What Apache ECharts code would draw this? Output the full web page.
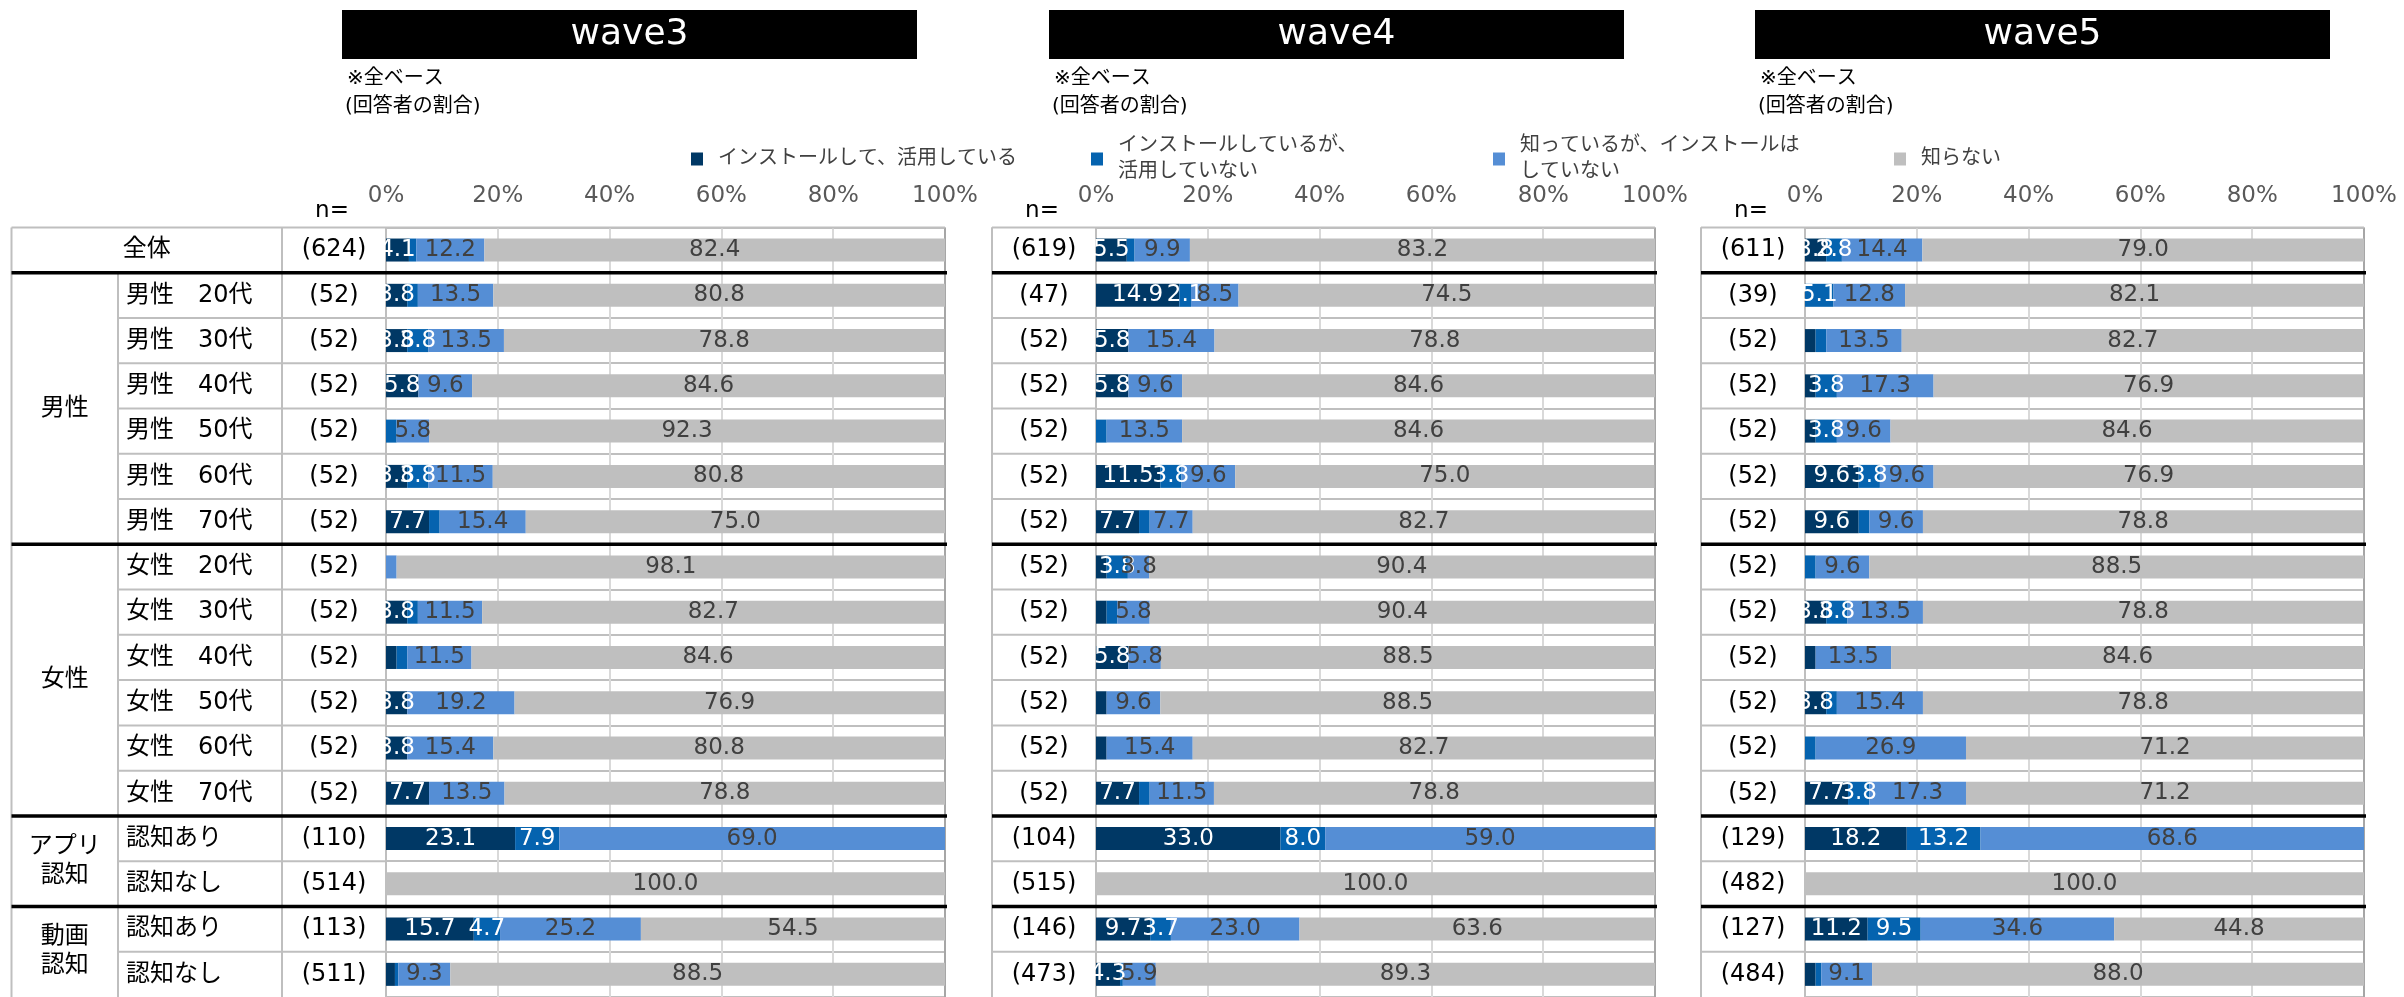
<!DOCTYPE html>
<html>
<head>
<meta charset="UTF-8">
<title></title>
<script src="https://cdn.jsdelivr.net/npm/echarts@6/dist/echarts.min.js"></script>
<style>html,body{margin:0;padding:0;background:#fff;}</style>
</head>
<body>
<div id="main" style="width:2404px;height:997px;"></div>
<script type="text/javascript">
// データ
var waves = ['wave3', 'wave4', 'wave5'];
var seriesNames = ['インストールして、活用している', 'インストールしているが、活用していない', '知っているが、インストールはしていない', '知らない'];
var legendText = ['インストールして、活用している', 'インストールしているが、\n活用していない', '知っているが、インストールは\nしていない', '知らない'];
var rowLabels = ['全体', '男性　20代', '男性　30代', '男性　40代', '男性　50代', '男性　60代', '男性　70代',
	'女性　20代', '女性　30代', '女性　40代', '女性　50代', '女性　60代', '女性　70代',
	'認知あり', '認知なし', '認知あり', '認知なし'];
var groupLabels = ['男性', '女性', 'アプリ\n認知', '動画\n認知'];
var groupRows = [[1, 7], [7, 13], [13, 15], [15, 17]];

var w3N = [624, 52, 52, 52, 52, 52, 52, 52, 52, 52, 52, 52, 52, 110, 514, 113, 511];
var w3Use = [4.1, 3.8, 3.8, 5.8, 0, 3.8, 7.7, 0, 3.8, 1.9, 3.8, 3.8, 7.7, 23.1, 0, 15.7, 1.6];
var w3Idle = [1.3, 1.9, 3.8, 0, 1.9, 3.8, 1.9, 0, 1.9, 1.9, 0, 0, 0, 7.9, 0, 4.7, 0.6];
var w3Aware = [12.2, 13.5, 13.5, 9.6, 5.8, 11.5, 15.4, 1.9, 11.5, 11.5, 19.2, 15.4, 13.5, 69.0, 0, 25.2, 9.3];
var w3Unaware = [82.4, 80.8, 78.8, 84.6, 92.3, 80.8, 75.0, 98.1, 82.7, 84.6, 76.9, 80.8, 78.8, 0, 100.0, 54.5, 88.5];

var w4N = [619, 47, 52, 52, 52, 52, 52, 52, 52, 52, 52, 52, 52, 104, 515, 146, 473];
var w4Use = [5.5, 14.9, 5.8, 5.8, 0, 11.5, 7.7, 1.9, 1.9, 5.8, 1.9, 1.9, 7.7, 33.0, 0, 9.7, 4.3];
var w4Idle = [1.4, 2.1, 0, 0, 1.9, 3.8, 1.9, 3.8, 1.9, 0, 0, 0, 1.9, 8.0, 0, 3.7, 0.5];
var w4Aware = [9.9, 8.5, 15.4, 9.6, 13.5, 9.6, 7.7, 3.8, 5.8, 5.8, 9.6, 15.4, 11.5, 59.0, 0, 23.0, 5.9];
var w4Unaware = [83.2, 74.5, 78.8, 84.6, 84.6, 75.0, 82.7, 90.4, 90.4, 88.5, 88.5, 82.7, 78.8, 0, 100.0, 63.6, 89.3];

var w5N = [611, 39, 52, 52, 52, 52, 52, 52, 52, 52, 52, 52, 52, 129, 482, 127, 484];
var w5Use = [3.8, 0, 1.9, 1.9, 1.9, 9.6, 9.6, 0, 3.8, 1.9, 3.8, 0, 7.7, 18.2, 0, 11.2, 1.9];
var w5Idle = [2.8, 5.1, 1.9, 3.8, 3.8, 3.8, 1.9, 1.9, 3.8, 0, 1.9, 1.9, 3.8, 13.2, 0, 9.5, 1.0];
var w5Aware = [14.4, 12.8, 13.5, 17.3, 9.6, 9.6, 9.6, 9.6, 13.5, 13.5, 15.4, 26.9, 17.3, 68.6, 0, 34.6, 9.1];
var w5Unaware = [79.0, 82.1, 82.7, 76.9, 84.6, 76.9, 78.8, 88.5, 78.8, 84.6, 78.8, 71.2, 71.2, 0, 100.0, 44.8, 88.0];

var nList = [w3N, w4N, w5N];
var valList = [
	[w3Use, w3Idle, w3Aware, w3Unaware],
	[w4Use, w4Idle, w4Aware, w4Unaware],
	[w5Use, w5Idle, w5Aware, w5Unaware]
];

// レイアウト
var colors = ['#003865', '#0563af', '#558ed5', '#bfbfbf'];
var FONT = '"DejaVu Sans", "Noto Sans CJK JP", sans-serif';
var chartLeft = [386, 1096, 1805];
var chartWidth = 559;
var tableLeft = [11.5, 992, 1701];
var titleLeft = [342, 1049, 1755];
var nColWidth = 104;
var subColLeft = 118, subTextLeft = 126;
var gridTop = 227.4, gridHeight = 770.1;
var thickRows = [1, 7, 13, 15];
var rowKeys = rowLabels.map(function(d, i) { return 'r' + i; });

var grids = [], xAxes = [], yAxes = [], series = [];
for (var p = 0; p < 3; p++) {
	grids.push({ left: chartLeft[p], top: gridTop, width: chartWidth, height: gridHeight });
	xAxes.push({
		gridIndex: p, type: 'value', position: 'top', min: 0, max: 100, interval: 20,
		axisLine: { show: false }, axisTick: { show: false },
		axisLabel: { formatter: '{value}%', fontSize: 23, color: '#595959', margin: 20, fontFamily: FONT },
		splitLine: { lineStyle: { color: '#d9d9d9', width: 2 } }
	});
	(function(nArr) {
		yAxes.push({
			gridIndex: p, type: 'category', position: 'left', inverse: true, data: rowKeys,
			axisLine: { show: false }, axisTick: { show: false },
			axisLabel: {
				interval: 0, margin: 0, fontFamily: FONT,
				formatter: function(v, i) { return '{n|(' + nArr[i] + ')}'; },
				rich: { n: { width: nColWidth, align: 'center', fontSize: 24, color: '#000', fontFamily: FONT } }
			},
			splitLine: { show: true, interval: 0, lineStyle: { color: '#bfbfbf', width: 2 } }
		});
	})(nList[p]);
	for (var s = 0; s < 4; s++) {
		series.push({
			type: 'bar', name: seriesNames[s], stack: 'w' + p,
			xAxisIndex: p, yAxisIndex: p, barWidth: 23,
			data: valList[p][s],
			itemStyle: { color: colors[s] },
			emphasis: { disabled: true },
			label: {
				show: true, position: 'inside', fontSize: 23, fontFamily: FONT,
				color: s < 2 ? '#ffffff' : '#404040',
				formatter: function(prm) { return prm.value >= 2 ? prm.value.toFixed(1) : ''; }
			}
		});
	}
}
// 行ラベル (wave3)
yAxes.push({
	gridIndex: 0, type: 'category', position: 'left', inverse: true, data: rowKeys,
	axisLine: { show: false }, axisTick: { show: false }, splitLine: { show: false },
	axisLabel: {
		interval: 0, margin: nColWidth, fontFamily: FONT,
		formatter: function(v, i) { return i === 0 ? '' : '{t|' + rowLabels[i] + '}'; },
		rich: { t: { width: chartLeft[0] - nColWidth - subTextLeft, align: 'left', fontSize: 24, color: '#000', fontFamily: FONT } }
	}
});

var legends = [];
var legendLeft = [686, 1086, 1488, 1889];
for (var k = 0; k < 4; k++) {
	legends.push({
		data: [seriesNames[k]], left: legendLeft[k], top: legendText[k].indexOf('\n') >= 0 ? 128 : 141,
		icon: 'rect', itemWidth: 12, itemHeight: 13, selectedMode: false,
		textStyle: { fontSize: 20, color: '#404040', lineHeight: 26, fontFamily: FONT, padding: [0, 0, 0, 10] },
		formatter: function(name) { return legendText[seriesNames.indexOf(name)]; }
	});
}

var option = {
	animation: false,
	textStyle: { fontFamily: FONT },
	legend: legends,
	grid: grids,
	xAxis: xAxes,
	yAxis: yAxes,
	series: series
};

var chart = echarts.init(document.getElementById('main'));
chart.setOption(option);

// 表の罫線・見出し
function txt(t, x, y, size, color, align) {
	return {
		type: 'text', silent: true, z: 6,
		style: { text: t, x: x, y: y, fill: color, font: size + 'px ' + FONT,
			align: align || 'center', verticalAlign: 'middle', textAlign: align || 'center', textVerticalAlign: 'middle', lineHeight: 29 }
	};
}
function line(x1, y1, x2, y2, color, w, z) {
	return { type: 'line', silent: true, z: z || 5, shape: { x1: x1, y1: y1, x2: x2, y2: y2 }, style: { stroke: color, lineWidth: w } };
}

var gfx = [];
for (var p = 0; p < 3; p++) {
	var c0 = chart.convertToPixel({ yAxisIndex: p }, 0);
	var band = chart.convertToPixel({ yAxisIndex: p }, 1) - c0;
	var bnd = function(i) { return c0 - band / 2 + i * band; };
	var x0 = chart.convertToPixel({ xAxisIndex: p }, 0);
	var x1 = chart.convertToPixel({ xAxisIndex: p }, 100);
	var L = tableLeft[p];
	var bottom = bnd(17);

	gfx.push({ type: 'rect', silent: true, shape: { x: titleLeft[p], y: 10, width: 575, height: 49 }, style: { fill: '#000' } });
	gfx.push(txt(waves[p], titleLeft[p] + 287.5, 35, 36, '#fff'));
	gfx.push(txt('※全ベース', titleLeft[p] + 5, 79, 20, '#000', 'left'));
	gfx.push(txt('(回答者の割合)', titleLeft[p] + 3, 107, 20, '#000', 'left'));
	gfx.push(txt('n=', x0 - 54, 211, 23, '#000'));

	// 横罫線
	gfx.push(line(L, bnd(0), x1, bnd(0), '#bfbfbf', 2));
	var innerLeft = p === 0 ? subColLeft : L;
	for (var i = 1; i < 17; i++) {
		if (thickRows.indexOf(i) >= 0) {
			gfx.push(line(L, bnd(i), x1 + 2, bnd(i), '#000', 3.5, 7));
		} else {
			gfx.push(line(innerLeft, bnd(i), x0, bnd(i), '#bfbfbf', 2));
		}
	}
	// 縦罫線
	gfx.push(line(L, bnd(0), L, bottom, '#bfbfbf', 2, 1));
	gfx.push(line(x0 - nColWidth, bnd(0), x0 - nColWidth, bottom, '#bfbfbf', 2, 1));
	gfx.push(line(x0, bnd(0), x0, bottom, '#bfbfbf', 2, 1));
	gfx.push(line(x1, bnd(0), x1, bottom, '#a6a6a6', 2, 1));
	if (p === 0) {
		gfx.push(line(subColLeft, bnd(1), subColLeft, bottom, '#bfbfbf', 2, 1));
		gfx.push(txt(rowLabels[0], (L + x0 - nColWidth) / 2, c0, 24, '#000'));
		for (var g = 0; g < groupLabels.length; g++) {
			var yc = (bnd(groupRows[g][0]) + bnd(groupRows[g][1])) / 2;
			gfx.push(txt(groupLabels[g], (L + subColLeft) / 2, yc, 24, '#000'));
		}
	}
}
chart.setOption({ graphic: gfx });
</script>
</body>
</html>
